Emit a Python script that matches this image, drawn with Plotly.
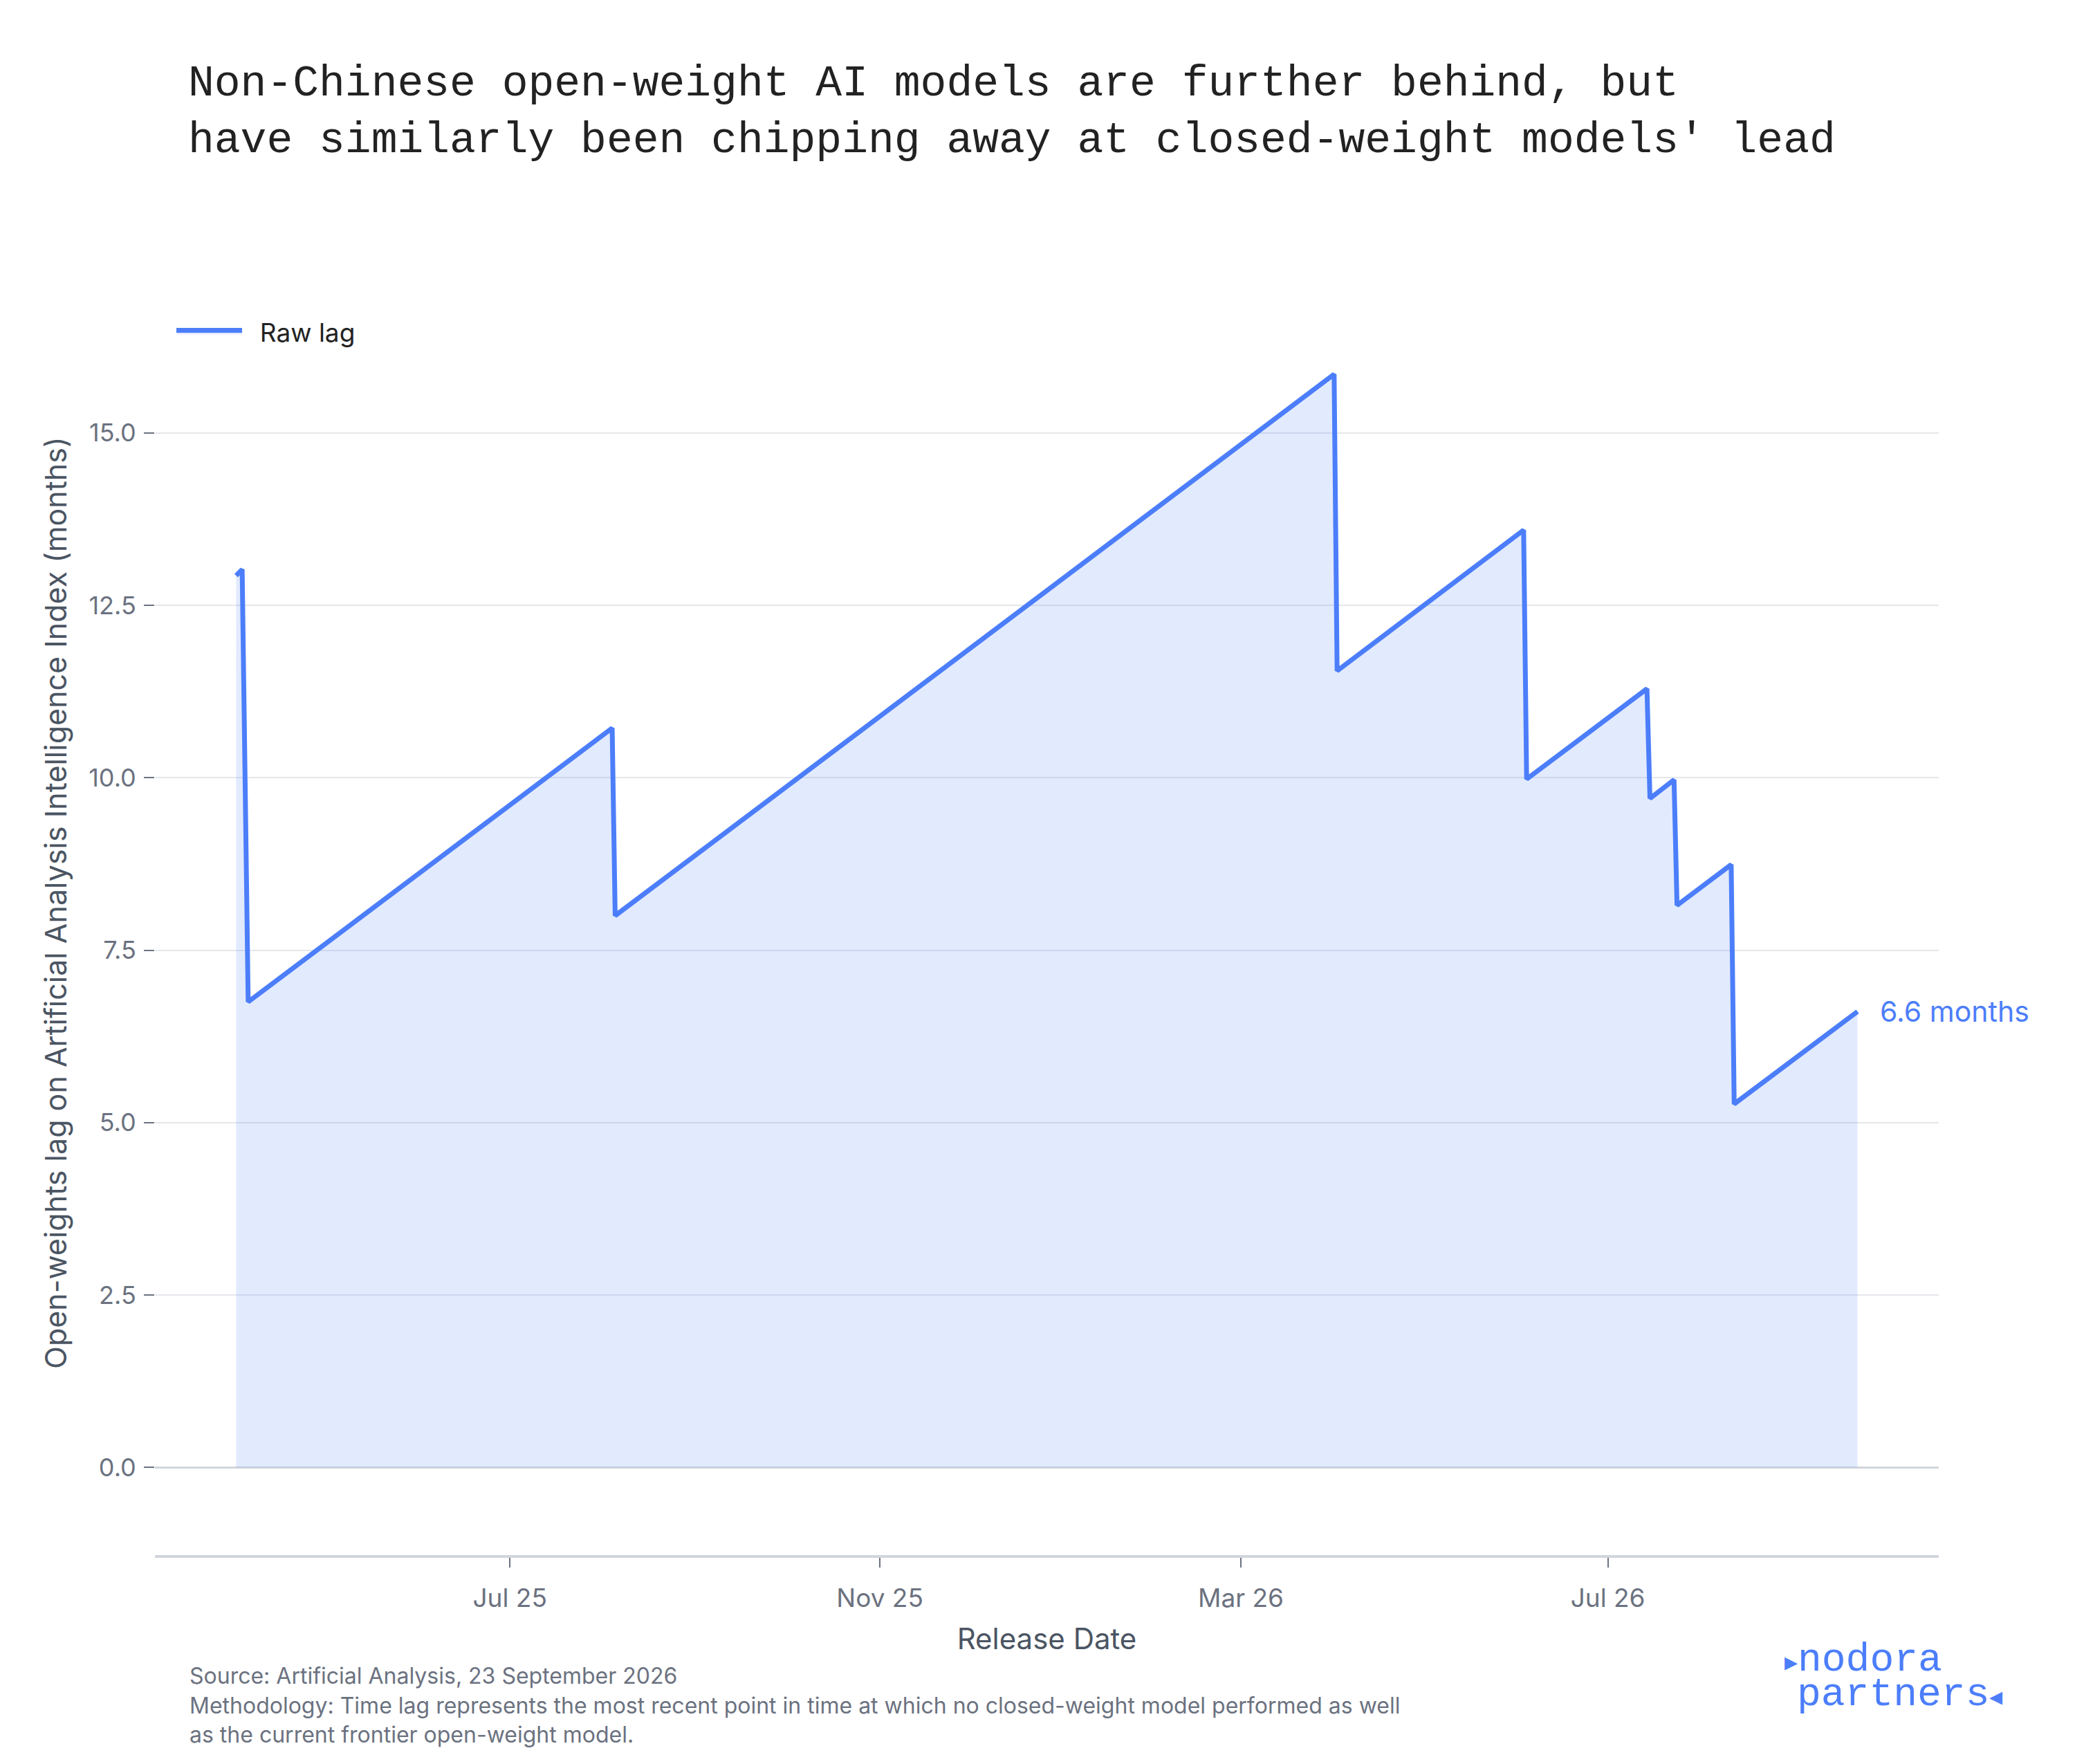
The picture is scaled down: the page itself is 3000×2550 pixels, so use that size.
import plotly.graph_objects as go

# ---- data ----
release_dates = [
    "2025-04-01", "2025-04-03", "2025-04-05", "2025-08-04", "2025-08-05",
    "2026-04-01", "2026-04-02", "2026-06-03", "2026-06-04", "2026-07-14",
    "2026-07-15", "2026-07-23", "2026-07-24", "2026-08-11", "2026-08-12",
    "2026-09-22",
]
raw_lag_months = [
    12.93, 13.02, 6.75, 10.72, 8.00,
    15.85, 11.55, 13.59, 9.98, 11.29,
    9.70, 9.97, 8.15, 8.74, 5.27,
    6.61,
]
series_name = "Raw lag"
end_label = "6.6 months"

title_lines = [
    "Non-Chinese open-weight AI models are further behind, but",
    "have similarly been chipping away at closed-weight models' lead",
]
y_title = "Open-weights lag on Artificial Analysis Intelligence Index (months)"
x_title = "Release Date"
footer_lines = [
    "Source: Artificial Analysis, 23 September 2026",
    "Methodology: Time lag represents the most recent point in time at which no closed-weight model performed as well",
    "as the current frontier open-weight model.",
]
logo_lines = ['<span style="font-size:38px">\u25B8</span>nodora',
              'partners<span style="font-size:38px">\u25C2</span>']
y_tickvals = [0.0, 2.5, 5.0, 7.5, 10.0, 12.5, 15.0]

BLUE = "#4C7EFA"
SANS = "Inter"
MONO = "Liberation Mono"

W, H = 3000, 2550
OFF = 8  # page margin of the browser
# target plot box in screenshot pixels: x 224..2803, y 516..2248
L, R, T, B = 224 - OFF, W - (2803 - OFF), 516 - OFF, H - (2248 - OFF)
plot_h = H - T - B
plot_w = W - L - R


def py(yshot):
    return (H - B - (yshot - OFF)) / plot_h


def px(xshot):
    return ((xshot - OFF) - L) / plot_w


fig = go.Figure()
fig.add_trace(go.Scatter(
    x=release_dates, y=raw_lag_months, mode="lines",
    name="\u00a0\u00a0" + series_name,
    line=dict(color=BLUE, width=7),
    fill="tozeroy", fillcolor="rgba(76,126,250,0.16)",
))

fig.add_annotation(
    x=release_dates[-1], y=raw_lag_months[-1], xref="x", yref="y",
    text=end_label, showarrow=False, xanchor="left", yanchor="middle",
    xshift=30, font=dict(family=SANS, size=41, color=BLUE),
)

# y-axis title (placed as rotated text, centred where the reference puts it)
fig.add_annotation(
    x=px(80), y=py(1305), xref="paper", yref="paper", text=y_title,
    showarrow=False, xanchor="center", yanchor="middle", textangle=-90,
    font=dict(family=SANS, size=43, color="#4B5563"),
)

footer_y = [2422, 2465, 2507]
for txt, yy in zip(footer_lines, footer_y):
    fig.add_annotation(
        x=px(272), y=py(yy), xref="paper", yref="paper", text=txt,
        showarrow=False, xanchor="left", yanchor="middle", align="left",
        font=dict(family=SANS, size=32, color="#6B7280"),
    )

for txt, xx, yy in zip(logo_lines, [2578, 2596], [2399, 2449]):
    fig.add_annotation(
        x=px(xx), y=py(yy), xref="paper", yref="paper", text=txt,
        showarrow=False, xanchor="left", yanchor="middle",
        font=dict(family=MONO, size=58, color=BLUE),
    )

fig.update_layout(
    width=W, height=H, autosize=False,
    margin=dict(l=L, r=R, t=T, b=B),
    paper_bgcolor="white", plot_bgcolor="white",
    title=dict(
        text="<br>".join(title_lines), x=(272 - OFF) / W, xanchor="left",
        y=1 - 130 / H, yanchor="top", xref="container", yref="container",
        font=dict(family=MONO, size=63, color="#222222"),
    ),
    legend=dict(
        orientation="h", x=px(250), xanchor="left", y=py(480), yanchor="middle",
        font=dict(family=SANS, size=37, color="#222222"),
        bgcolor="rgba(0,0,0,0)", itemwidth=95,
    ),
    showlegend=True,
    font=dict(family=SANS, color="#6B7280"),
)

fig.update_xaxes(
    type="date", range=["2025-03-05", "2026-10-19"],
    tick0="2025-07-01", dtick="M4", tickformat="%b %y",
    ticks="outside", ticklen=14, tickwidth=2, tickcolor="#6B7280",
    tickfont=dict(family=SANS, size=37, color="#6B7280"),
    showgrid=False, zeroline=False,
    showline=True, linecolor="#D1D5DB", linewidth=4,
    title=dict(text=x_title, font=dict(family=SANS, size=42, color="#4B5563"), standoff=24),
    ticklabelstandoff=13,
)
fig.update_yaxes(
    range=[-1.27, 16.1], tickvals=y_tickvals, tickformat=".1f",
    ticks="outside", ticklen=15, tickwidth=2, tickcolor="#6B7280",
    tickfont=dict(family=SANS, size=36, color="#6B7280"),
    showgrid=True, gridcolor="#E5E7EB", gridwidth=2,
    zeroline=True, zerolinecolor="#D1D5DB", zerolinewidth=3,
    showline=False,
    ticklabelstandoff=4,
)

fig.write_html("out.html")
